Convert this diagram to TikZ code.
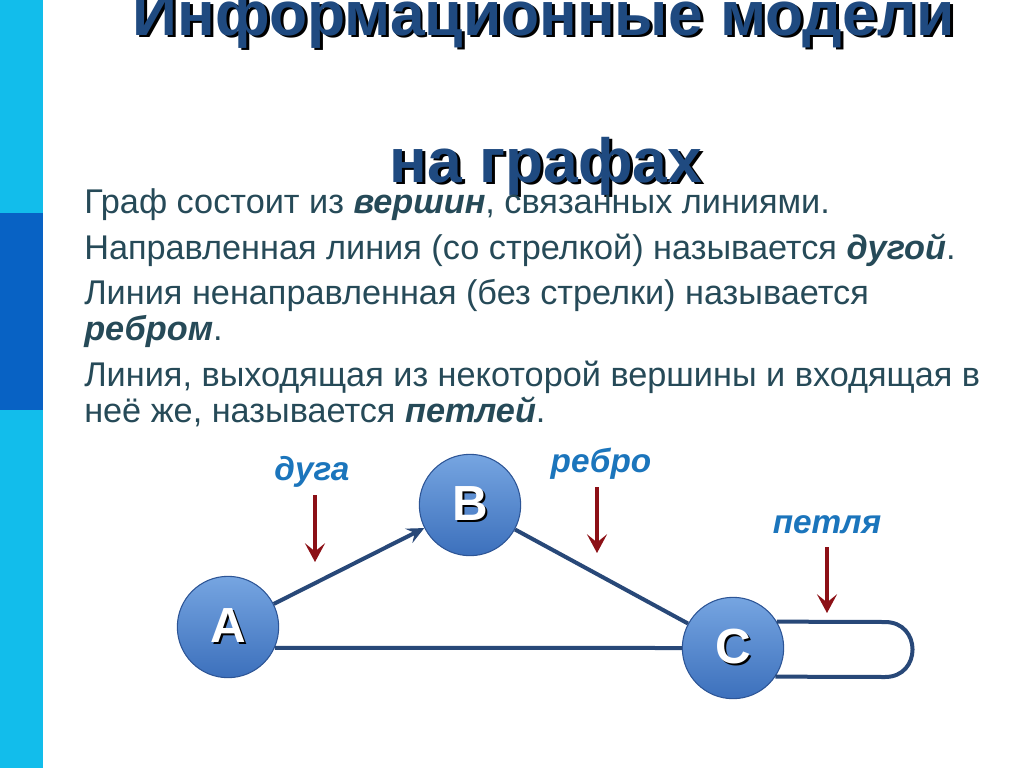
\documentclass[tikz,border=0pt]{standalone}
\usepackage{fontspec}
\setmainfont{Liberation Sans}
\usetikzlibrary{arrows.meta}

\definecolor{barcyan}{RGB}{18,189,235}
\definecolor{barblue}{RGB}{8,98,196}
\definecolor{titleblue}{RGB}{31,74,128}
\definecolor{bodytext}{RGB}{38,74,88}
\definecolor{labelblue}{RGB}{27,117,188}
\definecolor{pointred}{RGB}{140,16,22}
\definecolor{edgeblue}{RGB}{40,72,120}
\definecolor{balltop}{RGB}{118,165,225}
\definecolor{ballbottom}{RGB}{60,112,188}
\definecolor{ballrim}{RGB}{45,85,150}

\newcommand{\shtext}[2]{\makebox[0pt][l]{\hspace{#2}\raisebox{-#2}{\textcolor{black}{#1}}}#1}

\tikzset{
  body/.style={anchor=base west, inner sep=0pt, text=bodytext, font=\fontsize{25.7}{30}\selectfont},
  heading/.style={anchor=base, inner sep=0pt, text=titleblue, font=\fontsize{46.8}{54}\selectfont\bfseries},
  vertex/.style={circle, minimum size=76pt, inner sep=0pt, top color=balltop, bottom color=ballbottom,
    draw=ballrim, line width=0.8pt, text=white, font=\fontsize{37}{42}\selectfont\bfseries},
  edge/.style={draw=edgeblue, line width=3pt},
  tag/.style={inner sep=0pt, text=labelblue, font=\fontsize{25}{30}\selectfont\bfseries\itshape},
  pointer/.style={draw=pointred, line width=2.3pt, -{Stealth[length=14pt, width=15pt, inset=6pt]}}
}

\begin{document}
\begin{tikzpicture}[x=0.75pt, y=-0.75pt]
  \useasboundingbox (0,0) rectangle (1024,768);
  \clip (0,0) rectangle (1024,768);
  \fill[white] (0,0) rectangle (1024,768);

  \fill[barcyan] (0,0) rectangle (43,768);
  \fill[barblue] (0,213) rectangle (43,410);

  \node[heading] (title1) at (544,35) {\shtext{Информационные модели}{2.2pt}};
  \node[heading] (title2) at (546,182) {\shtext{на графах}{2.2pt}};

  \node[body] (line1) at (84,213) {Граф состоит из \textbf{\textit{вершин}}, связанных линиями.};
  \node[body] (line2) at (84,259) {Направленная линия (со стрелкой) называется \textbf{\textit{дугой}}.};
  \node[body] (line3) at (84,304) {Линия ненаправленная (без стрелки) называется};
  \node[body] (line4) at (84,340) {\textbf{\textit{ребром}}.};
  \node[body] (line5) at (84,386) {Линия, выходящая из некоторой вершины и входящая в};
  \node[body] (line6) at (84,422) {неё же, называется \textbf{\textit{петлей}}.};

  \node[vertex] (A) at (228,627) {\shtext{A}{1.5pt}};
  \node[vertex] (B) at (470,505) {\shtext{B}{1.5pt}};
  \node[vertex] (C) at (733,648) {\shtext{C}{1.5pt}};

  \draw[edge, -{Stealth[length=13pt, width=12pt, inset=5pt]}] (A) -- (B);
  \draw[edge] (B) -- (C);
  \draw[edge] (A.-24) -- (C.west);
  \draw[edge] (C.31) -- (885,622) .. controls (921.7,622) and (921.7,677) .. (885,677) -- (C.-34);

  \node[tag] (duga) at (312,472) {дуга};
  \node[tag] (rebro) at (601,464) {ребро};
  \node[tag] (petlya) at (827,525) {петля};

  \coordinate (dugaTop) at (315,495);
  \coordinate (dugaTip) at (315,562);
  \coordinate (rebroTop) at (597,487);
  \coordinate (rebroTip) at (597,553);
  \coordinate (petlyaTop) at (827,547);
  \coordinate (petlyaTip) at (827,613);
  \draw[pointer] (dugaTop) -- (dugaTip);
  \draw[pointer] (rebroTop) -- (rebroTip);
  \draw[pointer] (petlyaTop) -- (petlyaTip);
\end{tikzpicture}
\end{document}
